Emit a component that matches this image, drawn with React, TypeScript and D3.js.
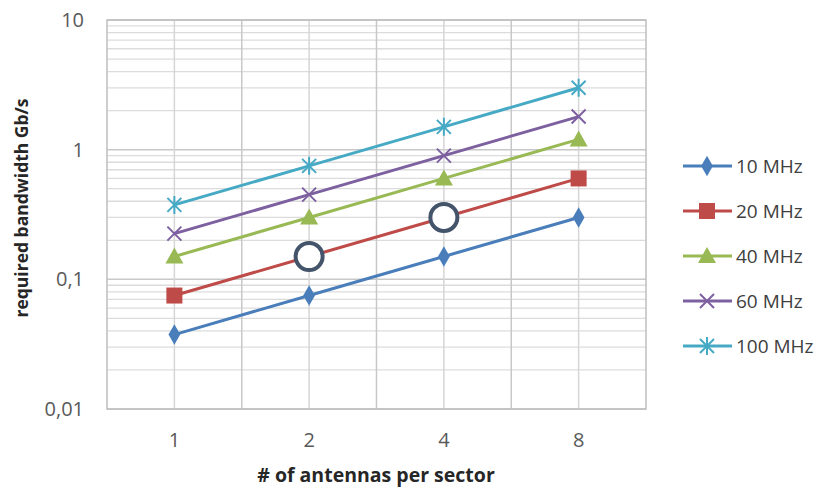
import React, { useEffect, useRef } from "react";
import * as d3 from "d3";

const categories = ["1", "2", "4", "8"];
const seriesNames = ["10 MHz", "20 MHz", "40 MHz", "60 MHz", "100 MHz"];
const colors = ["#4A7EBB", "#BE4B48", "#98B954", "#7D60A0", "#46AAC5"];
const markers = ["diamond", "square", "triangle", "x", "star"];
const mhz10 = [0.0375, 0.075, 0.15, 0.3];
const mhz20 = [0.075, 0.15, 0.3, 0.6];
const mhz40 = [0.15, 0.3, 0.6, 1.2];
const mhz60 = [0.225, 0.45, 0.9, 1.8];
const mhz100 = [0.375, 0.75, 1.5, 3.0];
const yTicks = [0.01, 0.1, 1, 10];
const yTickLabels = ["0,01", "0,1", "1", "10"];
// highlighted points (series index, category index)
const highlights = [[1, 1], [1, 2]];

const W = 824, H = 487;
const FONT = "Open Sans, sans-serif";

function drawMarker(g, type, x, y, color) {
  if (type === "diamond") {
    g.append("path").attr("d", d3.symbol(d3.symbolDiamond, 120)()).attr("transform", `translate(${x},${y})`).attr("fill", color);
  } else if (type === "square") {
    g.append("rect").attr("x", x - 8).attr("y", y - 8).attr("width", 16).attr("height", 16).attr("fill", color);
  } else if (type === "triangle") {
    g.append("path").attr("d", `M${x},${y - 9}L${x + 9},${y + 7}L${x - 9},${y + 7}Z`).attr("fill", color);
  } else if (type === "x") {
    g.append("path").attr("d", `M${x - 7},${y - 7}L${x + 7},${y + 7}M${x - 7},${y + 7}L${x + 7},${y - 7}`)
      .attr("stroke", color).attr("stroke-width", 2);
  } else {
    g.append("path").attr("d", `M${x - 7},${y - 7}L${x + 7},${y + 7}M${x - 7},${y + 7}L${x + 7},${y - 7}M${x},${y - 9}L${x},${y + 9}`)
      .attr("stroke", color).attr("stroke-width", 2);
  }
}

const App = () => {
  const ref = useRef(null);

  useEffect(() => {
    const svg = d3.select(ref.current);
    svg.selectAll("*").remove();
    const series = [mhz10, mhz20, mhz40, mhz60, mhz100];

    const left = 107, right = 646, top = 20, bottom = 409;
    const x = d3.scaleBand().domain(categories).range([left, right]);
    const y = d3.scaleLog().domain([0.01, 10]).range([bottom, top]);
    const cx = (c) => x(c) + x.bandwidth() / 2;

    const grid = svg.append("g");
    // minor horizontal gridlines
    for (let d = 0.01; d < 10; d *= 10) {
      for (let k = 2; k <= 9; k++) {
        const v = y(d * k);
        grid.append("line").attr("x1", left).attr("x2", right).attr("y1", v).attr("y2", v)
          .attr("stroke", "#dcdcdc").attr("stroke-width", 1.3);
      }
    }
    yTicks.forEach((t) => {
      grid.append("line").attr("x1", left).attr("x2", right).attr("y1", y(t)).attr("y2", y(t))
        .attr("stroke", "#c8c8c8").attr("stroke-width", 1.5);
    });
    // vertical gridlines: category centers and boundaries
    categories.forEach((c, i) => {
      grid.append("line").attr("x1", cx(c)).attr("x2", cx(c)).attr("y1", top).attr("y2", bottom)
        .attr("stroke", "#d6d6d6").attr("stroke-width", 1.5);
      if (i > 0) {
        grid.append("line").attr("x1", x(c)).attr("x2", x(c)).attr("y1", top).attr("y2", bottom)
          .attr("stroke", "#c8c8c8").attr("stroke-width", 1.5);
      }
    });
    grid.append("rect").attr("x", left).attr("y", top).attr("width", right - left).attr("height", bottom - top)
      .attr("fill", "none").attr("stroke", "#bfbfbf").attr("stroke-width", 1.5);

    // y tick labels
    yTicks.forEach((t, i) => {
      svg.append("text").attr("x", 84).attr("y", y(t)).attr("dy", "0.35em").attr("text-anchor", "end")
        .attr("font-family", FONT).attr("font-size", 20).attr("fill", "#595959")
        .text(yTickLabels[i]);
    });
    // x tick labels
    categories.forEach((c) => {
      svg.append("text").attr("x", cx(c)).attr("y", 440).attr("dy", "0.35em").attr("text-anchor", "middle")
        .attr("font-family", FONT).attr("font-size", 20).attr("fill", "#595959").text(c);
    });
    svg.append("text").attr("x", 376).attr("y", 475).attr("dy", "0.35em").attr("text-anchor", "middle")
      .attr("font-family", FONT).attr("font-weight", "bold").attr("font-size", 19.5)
      .attr("fill", "#262626").text("# of antennas per sector");
    svg.append("text").attr("transform", "translate(22,208) rotate(-90)").attr("dy", "0.35em")
      .attr("text-anchor", "middle").attr("font-family", FONT).attr("font-weight", "bold")
      .attr("font-size", 17.5).attr("fill", "#262626").text("required bandwidth Gb/s");

    // series
    const line = d3.line().x((d, i) => cx(categories[i])).y((d) => y(d));
    series.forEach((s, si) => {
      const g = svg.append("g");
      g.append("path").datum(s).attr("d", line).attr("fill", "none").attr("stroke", colors[si]).attr("stroke-width", 3);
      s.forEach((v, i) => drawMarker(g, markers[si], cx(categories[i]), y(v), colors[si]));
    });

    // highlight circles
    highlights.forEach(([si, ci]) => {
      svg.append("circle").attr("cx", cx(categories[ci])).attr("cy", y(series[si][ci])).attr("r", 13.5)
        .attr("fill", "#fff").attr("stroke", "#44546A").attr("stroke-width", 4);
    });

    // legend
    seriesNames.forEach((n, i) => {
      const ly = 166 + i * 45;
      const g = svg.append("g");
      g.append("line").attr("x1", 683).attr("x2", 732).attr("y1", ly).attr("y2", ly)
        .attr("stroke", colors[i]).attr("stroke-width", 3);
      drawMarker(g, markers[i], 707, ly, colors[i]);
      g.append("text").attr("x", 736).attr("y", ly).attr("dy", "0.35em")
        .attr("font-family", FONT).attr("font-size", 19).attr("fill", "#404040").text(n);
    });
  }, []);

  return <svg ref={ref} width={W} height={H} style={{ display: "block", position: "absolute", left: 0, top: 0 }} />;
};

export default App;
